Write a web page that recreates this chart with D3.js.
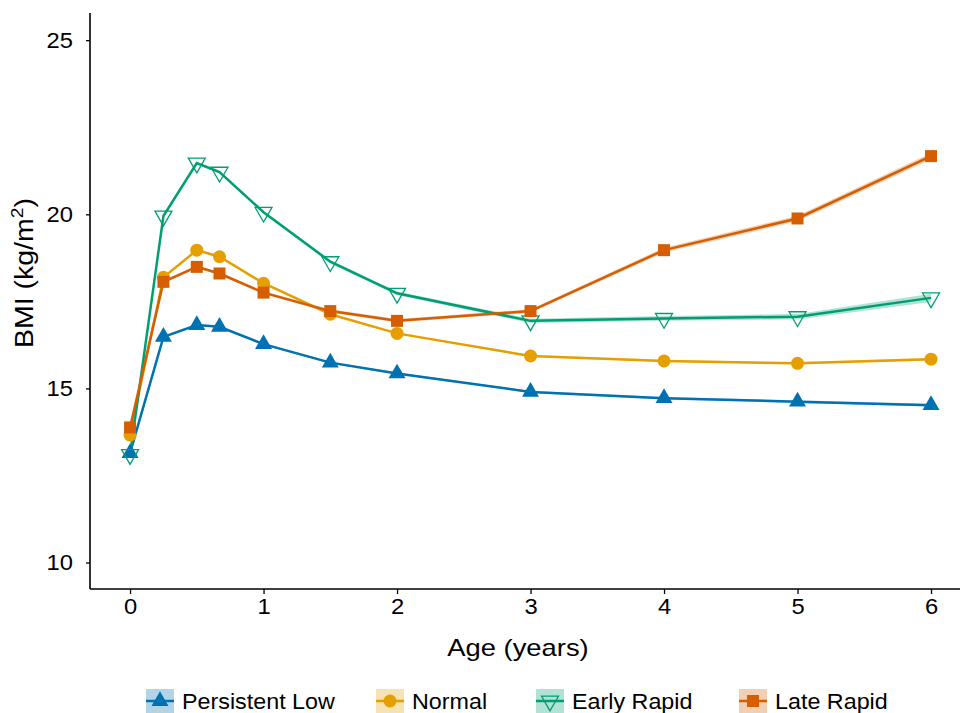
<!DOCTYPE html>
<html>
<head>
<meta charset="utf-8">
<script src="https://cdn.jsdelivr.net/npm/d3@7"></script>
<style>
	body { margin: 0; background: #fff; }
	text { font-family: "Liberation Sans", Arial, sans-serif; fill: #000; }
</style>
</head>
<body>
<svg id="chart" width="960" height="713"></svg>
<script>
(function(){
	'use strict';

	// ages (years)
	var ages = [0, 0.25, 0.5, 0.67, 1, 1.5, 2, 3, 4, 5, 6];

	// mean BMI per trajectory group
	var persistentLow = [13.14, 16.48, 16.82, 16.77, 16.27, 15.74, 15.43, 14.90, 14.72, 14.62, 14.52];
	var normal        = [13.66, 18.19, 18.97, 18.78, 18.02, 17.13, 16.58, 15.93, 15.79, 15.72, 15.84];
	var earlyRapid    = [13.10, 19.95, 21.47, 21.21, 20.06, 18.64, 17.73, 16.94, 17.01, 17.06, 17.60];
	var lateRapid     = [13.88, 18.06, 18.49, 18.30, 17.75, 17.22, 16.94, 17.22, 18.97, 19.88, 21.67];

	// half width of confidence band
	var ciPersistentLow = [0.03, 0.03, 0.03, 0.03, 0.03, 0.03, 0.03, 0.03, 0.03, 0.04, 0.04];
	var ciNormal        = [0.02, 0.02, 0.02, 0.02, 0.02, 0.02, 0.02, 0.03, 0.03, 0.03, 0.04];
	var ciEarlyRapid    = [0.04, 0.04, 0.04, 0.04, 0.04, 0.05, 0.05, 0.06, 0.07, 0.08, 0.12];
	var ciLateRapid     = [0.04, 0.04, 0.04, 0.04, 0.04, 0.05, 0.05, 0.05, 0.07, 0.08, 0.09];

	var groupNames = ["Persistent Low", "Normal", "Early Rapid", "Late Rapid"];
	var groupColors = ["#0072B2", "#E69F00", "#009E73", "#D55E00"];
	var groupShapes = ["triangle", "circle", "triangleDown", "square"];

	var yTicks = [10, 15, 20, 25];
	var xTicks = [0, 1, 2, 3, 4, 5, 6];

	var series = [persistentLow, normal, earlyRapid, lateRapid];
	var cis = [ciPersistentLow, ciNormal, ciEarlyRapid, ciLateRapid];

	var groups = groupNames.map(function(name, g){
		return {
			name: name,
			color: groupColors[g],
			shape: groupShapes[g],
			points: ages.map(function(a, i){
				return {age: a, bmi: series[g][i], lo: series[g][i] - cis[g][i], hi: series[g][i] + cis[g][i]};
			})
		};
	});

	var svg = d3.select("#chart");
	var m = {top: 13, right: 0, bottom: 124, left: 90};
	var width = 960 - m.left - m.right;
	var height = 713 - m.top - m.bottom;

	var xScale = d3.scaleLinear().domain([-0.3, 6.217]).range([0, width]);
	var yScale = d3.scaleLinear().domain([9.24, 25.78]).range([height, 0]);

	var chart = svg.append("g").attr("transform", "translate(" + m.left + "," + m.top + ")");

	function symbolPath(shape){
		if(shape === "circle") return d3.symbol(d3.symbolCircle, 133)();
		if(shape === "square") return d3.symbol(d3.symbolSquare, 144)();
		return d3.symbol(d3.symbolTriangle, 125)();
	}

	function drawMarker(sel, d){
		var p = sel.append("path").attr("d", symbolPath(d.shape));
		if(d.shape === "triangleDown"){
			p.attr("transform", "rotate(180)")
				.attr("fill", "none")
				.attr("stroke", d.color)
				.attr("stroke-width", 1.3);
		}else{
			p.attr("fill", d.color);
		}
		return p;
	}

	// ribbons
	var area = d3.area()
		.x(function(d){ return xScale(d.age); })
		.y0(function(d){ return yScale(d.lo); })
		.y1(function(d){ return yScale(d.hi); });
	chart.append("g").selectAll("path")
		.data(groups)
		.enter().append("path")
		.attr("fill", function(d){ return d.color; })
		.attr("opacity", 0.3)
		.attr("d", function(d){ return area(d.points); });

	// lines
	var line = d3.line()
		.x(function(d){ return xScale(d.age); })
		.y(function(d){ return yScale(d.bmi); });
	chart.append("g").selectAll("path")
		.data(groups)
		.enter().append("path")
		.attr("fill", "none")
		.attr("stroke", function(d){ return d.color; })
		.attr("stroke-width", 2.5)
		.attr("d", function(d){ return line(d.points); });

	// points
	groups.forEach(function(grp){
		grp.points.forEach(function(p){
			var g = chart.append("g")
				.attr("transform", "translate(" + xScale(p.age) + "," + yScale(p.bmi) + ")");
			drawMarker(g, grp);
		});
	});

	// axes
	var xAxis = d3.axisBottom(xScale).tickValues(xTicks).tickSize(5).tickPadding(4).tickFormat(d3.format("d"));
	var yAxis = d3.axisLeft(yScale).tickValues(yTicks).tickSize(4).tickPadding(13).tickFormat(d3.format("d"));

	var gx = chart.append("g").attr("transform", "translate(0," + height + ")").call(xAxis);
	var gy = chart.append("g").call(yAxis);
	[gx, gy].forEach(function(g){
		g.select(".domain").attr("stroke", "#000").attr("stroke-width", 1.6);
		g.selectAll(".tick line").attr("stroke", "#000").attr("stroke-width", 1.3);
		g.selectAll(".tick text").attr("font-size", 22).attr("fill", "#000")
			.attr("font-family", "'Liberation Sans', Arial, sans-serif");
	});
	gx.select(".domain").attr("d", "M0,0H" + width);
	gy.select(".domain").attr("d", "M0,0V" + height);

	// the reference glyphs run a bit wider than Liberation Sans
	gx.selectAll(".tick text").attr("transform", "scale(1.08,1)");
	gy.selectAll(".tick text").attr("x", null).attr("transform", "translate(-17,0) scale(1.08,1)");

	// axis titles
	svg.append("text")
		.attr("transform", "translate(518,656) scale(1.19,1)")
		.attr("text-anchor", "middle")
		.attr("font-size", 23)
		.text("Age (years)");

	var yt = svg.append("text")
		.attr("transform", "translate(33,273) rotate(-90) scale(1.14,1)")
		.attr("text-anchor", "middle")
		.attr("font-size", 25);
	yt.append("tspan").text("BMI (kg/m");
	yt.append("tspan").attr("font-size", 17).attr("dy", -10).text("2");
	yt.append("tspan").attr("dy", 10).text(")");

	// legend
	var legendX = [146, 376, 536, 739];
	var legend = svg.append("g");
	groups.forEach(function(grp, i){
		var k = legend.append("g").attr("transform", "translate(" + legendX[i] + ",689)");
		k.append("rect")
			.attr("width", 28).attr("height", 24)
			.attr("fill", grp.color).attr("opacity", 0.3);
		k.append("line")
			.attr("x1", 0).attr("x2", 28).attr("y1", 12).attr("y2", 12)
			.attr("stroke", grp.color).attr("stroke-width", 2.5);
		var mk = k.append("g").attr("transform", "translate(14,12)");
		drawMarker(mk, grp);
		k.append("text")
			.attr("transform", "translate(36,20) scale(1.06,1)")
			.attr("font-size", 22)
			.text(grp.name);
	});
}());
</script>
</body>
</html>
